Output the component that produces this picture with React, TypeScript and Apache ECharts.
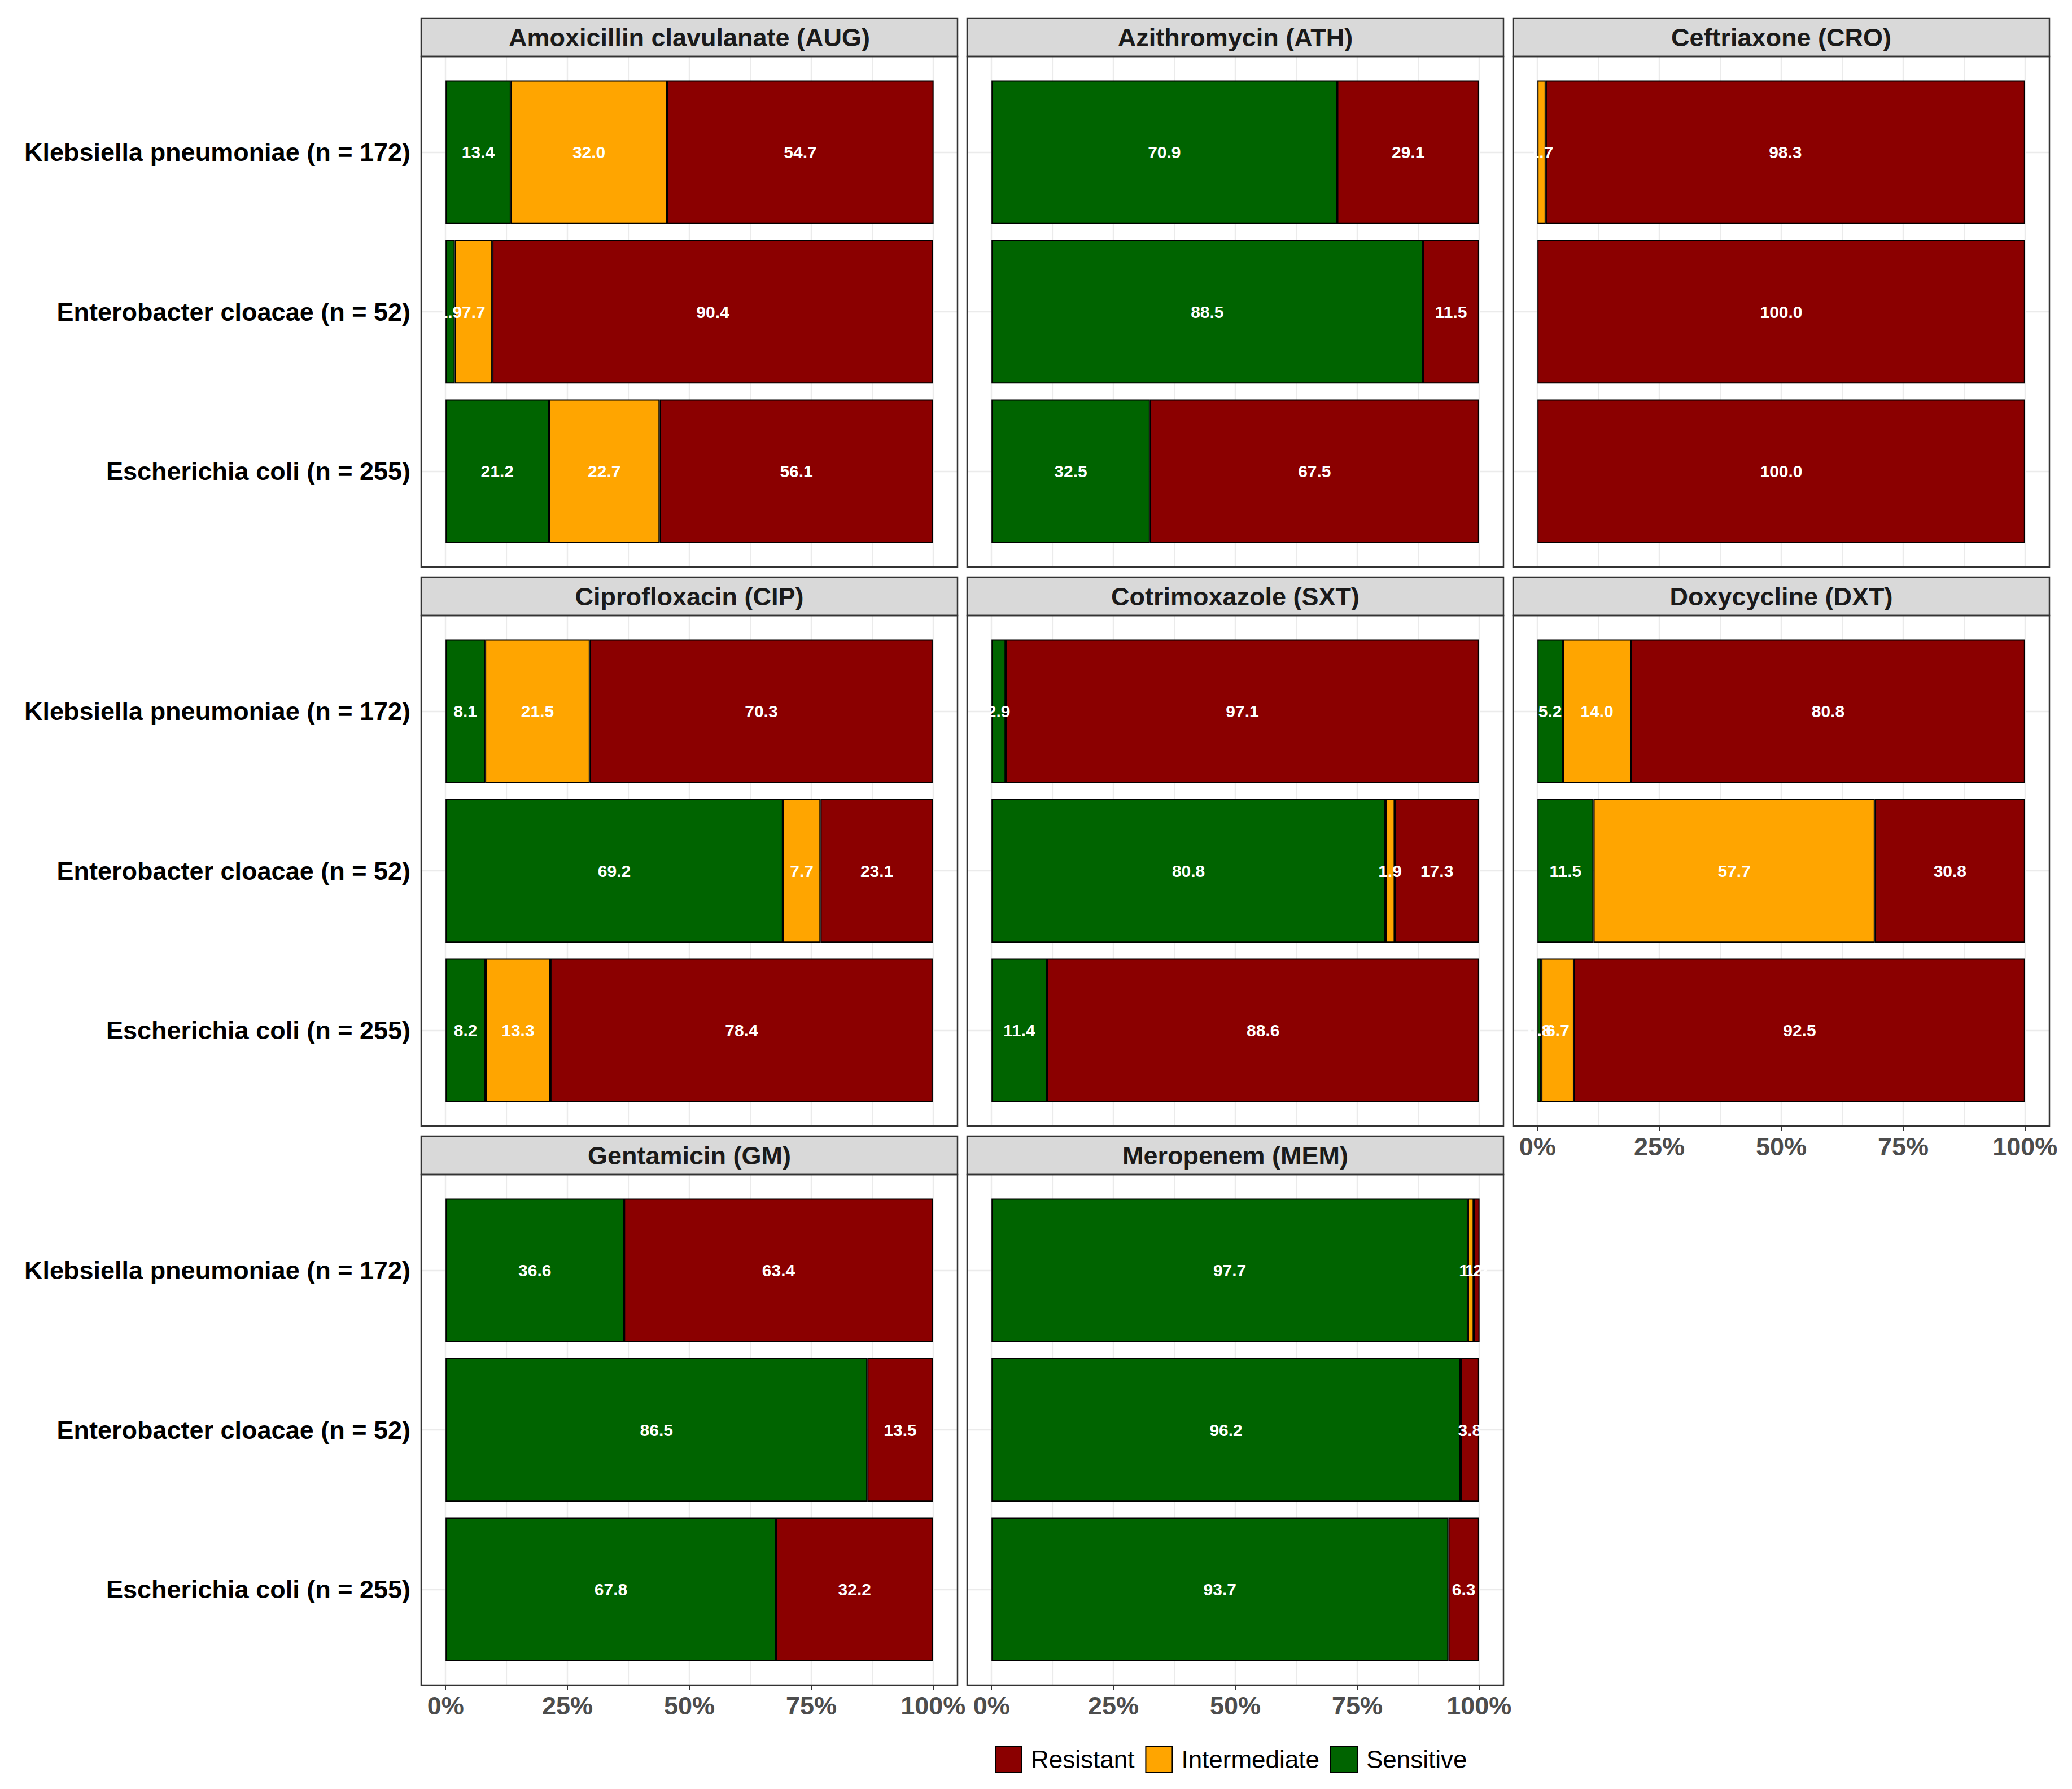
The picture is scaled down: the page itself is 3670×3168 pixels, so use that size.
import { useEffect, useRef } from 'react';
import * as echarts from 'echarts';

// organisms, top to bottom
const SPECIES = [
  'Klebsiella pneumoniae (n = 172)',
  'Enterobacter cloacae (n = 52)',
  'Escherichia coli (n = 255)',
];

const DRUGS = [
  'Amoxicillin clavulanate (AUG)',
  'Azithromycin (ATH)',
  'Ceftriaxone (CRO)',
  'Ciprofloxacin (CIP)',
  'Cotrimoxazole (SXT)',
  'Doxycycline (DXT)',
  'Gentamicin (GM)',
  'Meropenem (MEM)',
];

// percentages per drug, in SPECIES order
const SENSITIVE = [
  [13.4, 1.9, 21.2],
  [70.9, 88.5, 32.5],
  [0, 0, 0],
  [8.1, 69.2, 8.2],
  [2.9, 80.8, 11.4],
  [5.2, 11.5, 0.8],
  [36.6, 86.5, 67.8],
  [97.7, 96.2, 93.7],
];
const INTERMEDIATE = [
  [32.0, 7.7, 22.7],
  [0, 0, 0],
  [1.7, 0, 0],
  [21.5, 7.7, 13.3],
  [0, 1.9, 0],
  [14.0, 57.7, 6.7],
  [0, 0, 0],
  [1.2, 0, 0],
];
const RESISTANT = [
  [54.7, 90.4, 56.1],
  [29.1, 11.5, 67.5],
  [98.3, 100.0, 100.0],
  [70.3, 23.1, 78.4],
  [97.1, 17.3, 88.6],
  [80.8, 30.8, 92.5],
  [63.4, 13.5, 32.2],
  [1.2, 3.8, 6.3],
];

const LEGEND_ORDER = ['Resistant', 'Intermediate', 'Sensitive'];

const FONT = "'Liberation Sans', Arial, sans-serif";

// facet layout (px)
const COL_LEFT = 746;
const COL_STEP = 967;
const PANEL_W = 950;
const ROW_TOP = 32;
const ROW_STEP = 990;
const STRIP_H = 68;
const PANEL_H = 904;
const UNIT = PANEL_H / 3.2;
const EXPAND = PANEL_W / 22;

export default function App() {
  const chartRef = useRef<HTMLDivElement>(null);

  useEffect(() => {
    if (!chartRef.current) return;
    document.body.style.margin = '0';
    const chart = echarts.init(chartRef.current, undefined, { renderer: 'svg' });

    const groups = [
      { name: 'Sensitive', values: SENSITIVE, color: '#006400' },
      { name: 'Intermediate', values: INTERMEDIATE, color: '#FFA500' },
      { name: 'Resistant', values: RESISTANT, color: '#8B0000' },
    ];

    const grids: any[] = [];
    const xAxes: any[] = [];
    const yAxes: any[] = [];
    const series: any[] = [];
    const graphics: any[] = [];

    DRUGS.forEach((drug, p) => {
      const row = Math.floor(p / 3);
      const col = p % 3;
      const left = COL_LEFT + col * COL_STEP;
      const stripTop = ROW_TOP + row * ROW_STEP;
      const top = stripTop + STRIP_H;
      const bottomPanel = p >= 5;
      const leftPanel = col === 0;

      // background grid: vertical grid lines + bottom axis
      grids.push({ left: left + EXPAND, top, width: PANEL_W - 2 * EXPAND, height: PANEL_H });
      xAxes.push({
        type: 'value',
        gridIndex: 2 * p,
        min: 0,
        max: 100,
        interval: 25,
        axisLine: { show: false },
        axisTick: { show: bottomPanel, length: 9, lineStyle: { color: '#333333', width: 2 } },
        axisLabel: {
          show: bottomPanel,
          formatter: (v: number) => `${v}%`,
          color: '#4D4D4D',
          fontWeight: 'bold',
          fontSize: 45,
          fontFamily: FONT,
          margin: 14,
        },
        splitLine: { show: true, lineStyle: { color: '#EBEBEB', width: 2.4 } },
        minorTick: { show: false, splitNumber: 2 },
        minorSplitLine: { show: true, lineStyle: { color: '#EBEBEB', width: 1.2 } },
      });
      yAxes.push({ type: 'value', gridIndex: 2 * p, min: 0, max: 1, show: false });

      // bar grid
      grids.push({ left, top: top + 0.1 * UNIT, width: PANEL_W, height: 3 * UNIT });
      xAxes.push({ type: 'value', gridIndex: 2 * p + 1, min: -5, max: 105, show: false });
      yAxes.push({
        type: 'category',
        gridIndex: 2 * p + 1,
        data: SPECIES,
        inverse: true,
        axisLine: { show: false },
        axisTick: {
          show: leftPanel,
          alignWithLabel: true,
          length: 9,
          lineStyle: { color: '#333333', width: 2 },
        },
        axisLabel: {
          show: leftPanel,
          color: '#000',
          fontWeight: 'bold',
          fontSize: 45,
          fontFamily: FONT,
          margin: 19,
        },
        splitLine: { show: false },
      });

      groups.forEach((g, gi) => {
        series.push({
          type: 'bar',
          name: g.name,
          xAxisIndex: 2 * p + 1,
          yAxisIndex: 2 * p + 1,
          stack: `panel${p}`,
          barWidth: '90%',
          z: 2,
          data: g.values[p].map((v) => (v > 0 ? v : null)),
          itemStyle: { color: g.color, borderColor: '#000', borderWidth: 2 },
          label: {
            show: true,
            position: 'inside',
            formatter: (d: any) => (d.value > 0 ? Number(d.value).toFixed(1) : ''),
            color: '#fff',
            fontWeight: 'bold',
            fontSize: 30,
            fontFamily: FONT,
            textBorderWidth: 0,
          },
          markLine:
            gi === 0
              ? {
                  silent: true,
                  symbol: 'none',
                  z: 1,
                  label: { show: false },
                  lineStyle: { color: '#EBEBEB', width: 2.4, type: 'solid' },
                  data: SPECIES.map((s) => ({ yAxis: s })),
                }
              : undefined,
        });
      });

      // strip and panel border
      graphics.push({
        type: 'rect',
        z: 100,
        shape: { x: left, y: stripTop, width: PANEL_W, height: STRIP_H },
        style: { fill: '#D9D9D9', stroke: '#333333', lineWidth: 2.5 },
      });
      graphics.push({
        type: 'text',
        z: 101,
        x: left + PANEL_W / 2,
        y: stripTop + STRIP_H / 2,
        style: {
          text: drug,
          fill: '#1A1A1A',
          fontSize: 45,
          fontWeight: 'bold',
          fontFamily: FONT,
          align: 'center',
          verticalAlign: 'middle',
          textAlign: 'center',
          textVerticalAlign: 'middle',
        },
      });
      graphics.push({
        type: 'rect',
        z: 100,
        shape: { x: left, y: top, width: PANEL_W, height: PANEL_H },
        style: { fill: 'none', stroke: '#333333', lineWidth: 2.5 },
      });
    });

    chart.setOption({
      animation: false,
      backgroundColor: '#ffffff',
      grid: grids,
      xAxis: xAxes,
      yAxis: yAxes,
      series,
      graphic: { elements: graphics },
      legend: {
        data: LEGEND_ORDER,
        left: 1757,
        top: 3086,
        icon: 'rect',
        itemWidth: 47,
        itemHeight: 47,
        itemGap: 19,
        itemStyle: { borderColor: '#000', borderWidth: 2 },
        textStyle: { color: '#000', fontSize: 44, fontFamily: FONT, padding: [0, 0, 0, 11] },
      },
    });

    return () => chart.dispose();
  }, []);

  return <div ref={chartRef} style={{ width: 3670, height: 3168 }} />;
}
